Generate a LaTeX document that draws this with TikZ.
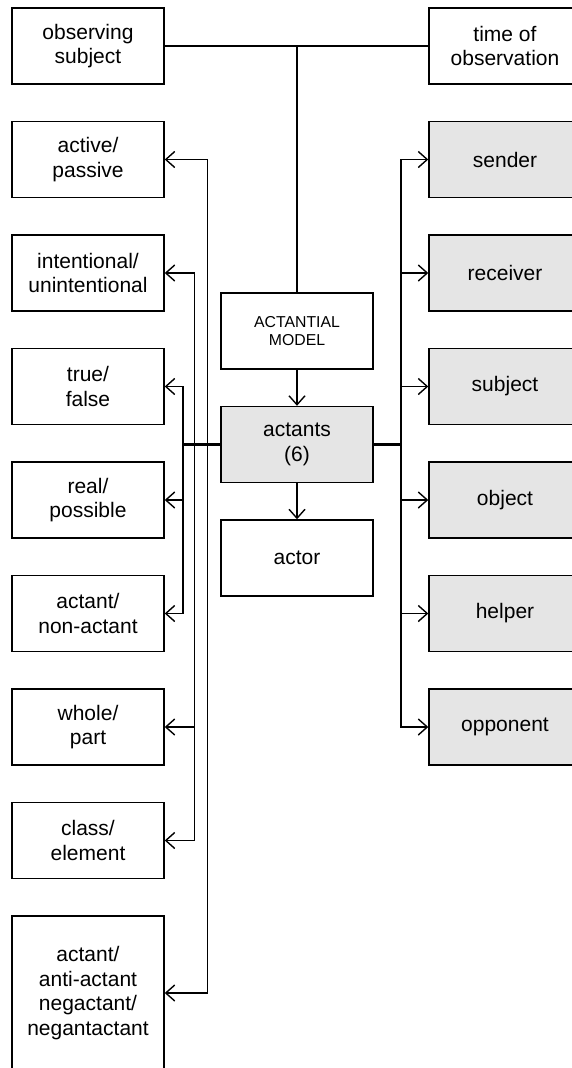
\documentclass[tikz,border=0pt]{standalone}
\usepackage{fontspec}
\setmainfont{Liberation Sans}
\usetikzlibrary{positioning,arrows.meta}

\begin{document}
\begin{tikzpicture}[x=1pt, y=-1pt,
  box/.style={draw, rectangle, line width=1.4pt,
              minimum width=152pt, minimum height=76pt, inner sep=2pt,
              align=center, font=\fontsize{21}{24.5}\selectfont},
  gbox/.style={box, fill=black!10},
  mbox/.style={box, line width=2.8pt, font=\fontsize{15.8}{18}\selectfont},
  arr/.style={-{Straight Barb[length=9pt,width=16pt,line width=1.4pt]},
              line width=1.4pt},
  trunk/.style={line width=2.8pt}
]
\useasboundingbox (0,0) rectangle (571,1068);

%% ── left column ─────────────────────────────
\node[box] (obs)     at (88,  46)    {observing\\subject};
\node[box] (active)  at (88, 159.5)  {active/\\passive};
\node[box] (intent)  at (88, 273)    {intentional/\\unintentional};
\node[box] (truef)   at (88, 386.5)  {true/\\false};
\node[box] (realp)   at (88, 500)    {real/\\possible};
\node[box] (actnon)  at (88, 613.5)  {actant/\\non-actant};
\node[box] (whole)   at (88, 727)    {whole/\\part};
\node[box] (class)   at (88, 840.5)  {class/\\element};
\node[box, minimum height=154pt] (negact) at (88, 993)
  {actant/\\anti-actant\\negactant/\\negantactant};

%% ── centre column ───────────────────────────
\node[mbox] (model)   at (297, 331)   {ACTANTIAL\\MODEL};
\node[gbox] (actants) at (297, 444.5) {actants\\(6)};
\node[box]  (actor)   at (297, 558)   {actor};

%% ── right column ────────────────────────────
\node[box]  (time)     at (505, 46)    {time of\\observation};
\node[gbox] (sender)   at (505, 159.5) {sender};
\node[gbox] (receiver) at (505, 273)   {receiver};
\node[gbox] (subject)  at (505, 386.5) {subject};
\node[gbox] (object)   at (505, 500)   {object};
\node[gbox] (helper)   at (505, 613.5) {helper};
\node[gbox] (opponent) at (505, 727)   {opponent};

% bus points
\coordinate (busA) at (183,   444.5);
\coordinate (busB) at (194.5, 444.5);
\coordinate (busC) at (207.5, 444.5);
\coordinate (busR) at (401,   444.5);

% observer line
\draw[trunk] (obs.east) -- (time.west);
\draw[trunk] (obs.east -| model.north) -- (model.north);

% centre arrows
\draw[arr] (model)   -- (actants);
\draw[arr] (actants) -- (actor);

% left buses
\foreach \n in {truef, realp, actnon}   \draw[arr] (busA) |- (\n.east);
\foreach \n in {intent, whole, class}   \draw[arr] (busB) |- (\n.east);
\foreach \n in {active, negact}         \draw[arr] (busC) |- (\n.east);

% right bus
\foreach \n in {sender, receiver, subject, object, helper, opponent}
  \draw[arr] (busR) |- (\n.west);

% actants feed lines
\draw[trunk] (actants.west) -- (busA);
\draw[trunk] (actants.east) -- (busR);

\end{tikzpicture}
\end{document}
